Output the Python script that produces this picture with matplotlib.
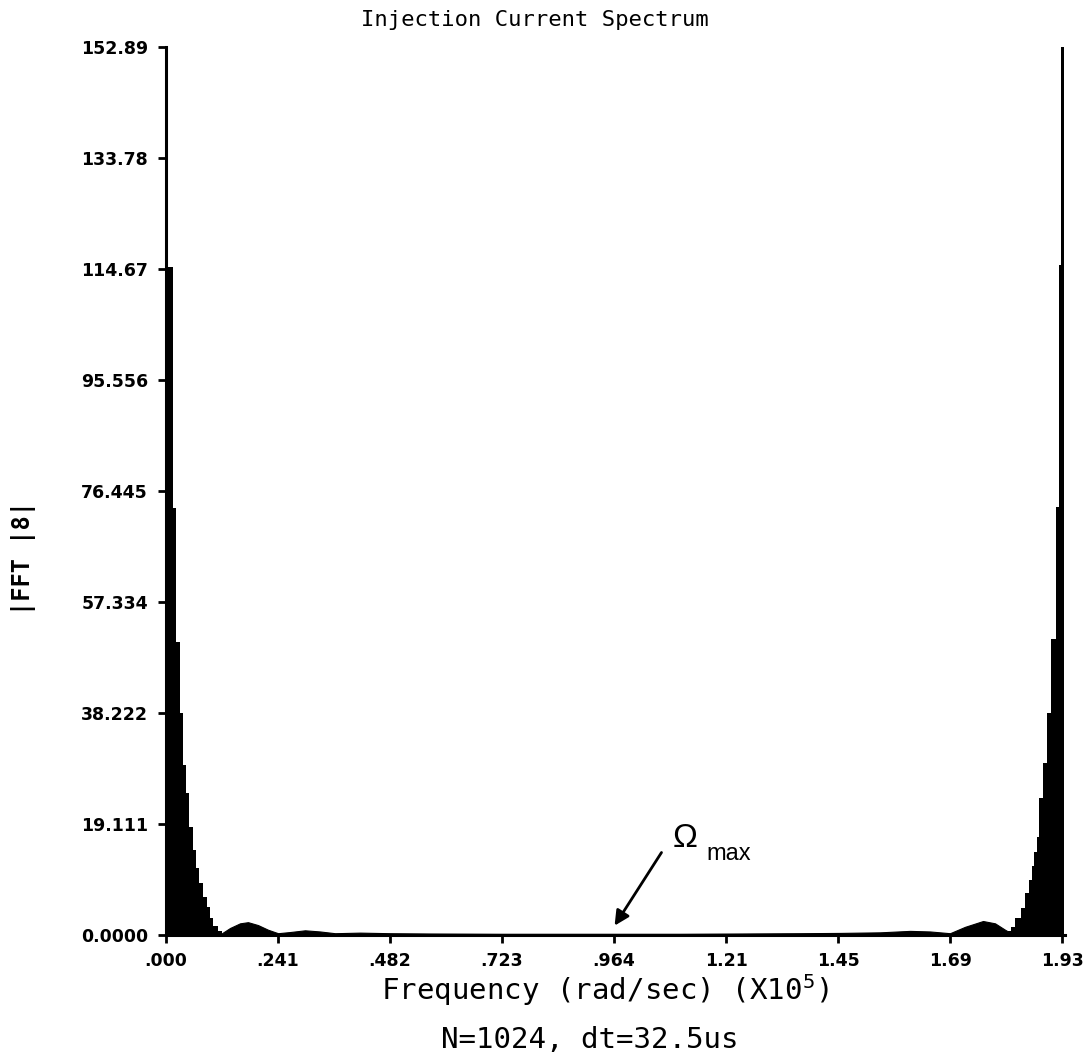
import numpy as np
import matplotlib.pyplot as plt

plt.rcParams['mathtext.fontset'] = 'custom'
plt.rcParams['mathtext.rm'] = 'DejaVu Sans Mono'
plt.rcParams['mathtext.default'] = 'regular'

# spectrum, frequency in units of 1e5 rad/sec
left_edges = [0.0, 0.0045, 0.0157, 0.0215, 0.0302, 0.0360, 0.0424, 0.0495, 0.0575,
              0.0640, 0.0717, 0.0790, 0.0876, 0.0947, 0.1018, 0.1120, 0.1206]
left_mag = [152.89, 115.0, 73.5, 50.4, 38.2, 29.3, 24.4, 18.6, 14.6,
            11.5, 9.0, 6.5, 4.8, 2.9, 1.5, 0.6]

right_edges = [1.8137, 1.8195, 1.8287, 1.8410, 1.8503, 1.8596, 1.8647, 1.8701, 1.8755,
               1.8811, 1.8885, 1.8971, 1.9063, 1.9160, 1.9242, 1.9275, 1.9350]
right_mag = [0.6, 1.4, 2.9, 4.6, 7.2, 9.5, 11.8, 14.3, 16.9,
             23.5, 29.6, 38.2, 51.0, 73.7, 115.4, 152.89]

ripple_f = [0.1206, 0.1379, 0.1594, 0.1766, 0.1982, 0.2197, 0.2413, 0.2671, 0.2994,
            0.3317, 0.3640, 0.4179, 0.4825, 0.5687, 0.7194, 0.8487, 0.965, 1.1072,
            1.2364, 1.3656, 1.4518, 1.538, 1.6026, 1.6457, 1.6887, 1.7211, 1.7598,
            1.7857, 1.8072, 1.8137]
ripple_mag = [0.3, 1.2, 2.0, 2.2, 1.7, 0.9, 0.3, 0.5, 0.8,
              0.6, 0.3, 0.4, 0.3, 0.25, 0.2, 0.2, 0.2, 0.2,
              0.25, 0.3, 0.35, 0.45, 0.7, 0.6, 0.3, 1.4, 2.4,
              2.0, 0.9, 0.6]

yticks = [0, 19.111, 38.222, 57.334, 76.445, 95.556, 114.67, 133.78, 152.89]
ylabels = ['0.0000', '19.111', '38.222', '57.334', '76.445', '95.556', '114.67', '133.78', '152.89']
xticks = [0, 0.24125, 0.4825, 0.72375, 0.965, 1.20625, 1.4475, 1.68875, 1.93]
xlabels = ['.000', '.241', '.482', '.723', '.964', '1.21', '1.45', '1.69', '1.93']

fig = plt.figure(figsize=(10.9, 10.61), dpi=100)
ax = fig.add_axes([0.1523, 0.1188, 0.8246, 0.8369])

ax.stairs(left_mag, left_edges, fill=True, color='black', clip_on=False)
ax.stairs(right_mag, right_edges, fill=True, color='black', clip_on=False)
ax.fill_between(ripple_f, ripple_mag, color='black', linewidth=0.8)

ax.set_xlim(0, 1.936)
ax.set_ylim(0, 152.89)
ax.spines['top'].set_visible(False)
ax.spines['right'].set_visible(False)
ax.spines['left'].set_linewidth(2.2)
ax.spines['bottom'].set_linewidth(2.2)

ax.set_yticks(yticks)
ax.set_yticklabels(ylabels, fontsize=12.5, fontweight='bold')
ax.set_xticks(xticks)
ax.set_xticklabels(xlabels, fontsize=12.5, fontweight='bold')
ax.tick_params(axis='y', direction='out', length=6, width=2, pad=7)
ax.tick_params(axis='x', direction='out', length=6, width=2, pad=6)

fig.text(0.491, 0.981, 'Injection Current Spectrum', family='DejaVu Sans Mono',
         fontsize=16, ha='center', va='center')
fig.text(0.022, 0.474, '|FFT |8|', family='DejaVu Sans Mono', fontweight='bold',
         fontsize=17, rotation=90, ha='center', va='center')
fig.text(0.555, 0.067, 'Frequency (rad/sec) (X10$^5$)', family='DejaVu Sans Mono',
         fontsize=21, ha='center', va='center')
fig.text(0.541, 0.020, 'N=1024, dt=32.5us', family='DejaVu Sans Mono',
         fontsize=21, ha='center', va='center')

ax.annotate('', xy=(0.963, 1.2), xytext=(1.0705, 14.6),
            arrowprops=dict(arrowstyle='-|>', color='black', lw=2, mutation_scale=22))
ax.text(1.091, 14.0, 'Ω', family='Liberation Sans', fontsize=24, ha='left', va='bottom')
ax.text(1.163, 12.0, 'max', family='Liberation Sans', fontsize=17, ha='left', va='bottom')

fig.savefig('out.png', dpi=100)
